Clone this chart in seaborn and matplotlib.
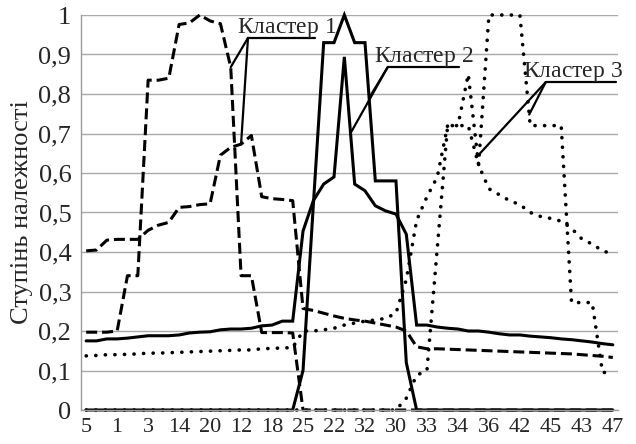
import matplotlib
matplotlib.use("Agg")
import matplotlib.pyplot as plt
import numpy as np
import seaborn as sns

# Object numbers shown under every third position on the x axis
object_labels = ["5", "1", "3", "14", "20", "12", "18", "25", "22",
                 "32", "30", "33", "34", "36", "42", "45", "43", "47"]

# Membership degrees, cluster 1 (two methods)
cl1_a = [0.197, 0.197, 0.197, 0.200, 0.340, 0.340, 0.835, 0.835, 0.840, 0.976,
         0.980, 1.000, 0.985, 0.978, 0.868, 0.340, 0.340, 0.196, 0.196, 0.196,
         0.195, 0.0, 0.0, 0.0, 0.0, 0.0, 0.0, 0.0, 0.0, 0.0,
         0.0, 0.0, 0.0, 0.0, 0.0, 0.0, 0.0, 0.0, 0.0, 0.0,
         0.0, 0.0, 0.0, 0.0, 0.0, 0.0, 0.0, 0.0, 0.0, 0.0,
         0.0, 0.0]
cl1_b = [0.403, 0.405, 0.430, 0.432, 0.432, 0.432, 0.455, 0.468, 0.475, 0.513,
         0.515, 0.520, 0.522, 0.645, 0.665, 0.673, 0.695, 0.540, 0.535, 0.533,
         0.530, 0.257, 0.252, 0.245, 0.238, 0.232, 0.228, 0.225, 0.220, 0.215,
         0.210, 0.200, 0.160, 0.155, 0.155, 0.154, 0.153, 0.152, 0.151, 0.150,
         0.149, 0.148, 0.147, 0.146, 0.145, 0.144, 0.143, 0.142, 0.140, 0.138,
         0.136, 0.133]

# Membership degrees, cluster 2
cl2_a = [0.175, 0.175, 0.180, 0.180, 0.182, 0.185, 0.188, 0.188, 0.188, 0.190,
         0.195, 0.197, 0.198, 0.203, 0.205, 0.205, 0.207, 0.213, 0.215, 0.225,
         0.225, 0.453, 0.530, 0.572, 0.590, 0.894, 0.572, 0.555, 0.517, 0.504,
         0.496, 0.445, 0.215, 0.215, 0.210, 0.207, 0.205, 0.200, 0.200, 0.197,
         0.193, 0.190, 0.190, 0.187, 0.185, 0.183, 0.180, 0.178, 0.175, 0.172,
         0.168, 0.165]
cl2_b = [0.0, 0.0, 0.0, 0.0, 0.0, 0.0, 0.0, 0.0, 0.0, 0.0,
         0.0, 0.0, 0.0, 0.0, 0.0, 0.0, 0.0, 0.0, 0.0, 0.0,
         0.0, 0.100, 0.520, 0.930, 0.930, 1.000, 0.930, 0.930, 0.580, 0.580,
         0.580, 0.120, 0.0, 0.0, 0.0, 0.0, 0.0, 0.0, 0.0, 0.0,
         0.0, 0.0, 0.0, 0.0, 0.0, 0.0, 0.0, 0.0, 0.0, 0.0,
         0.0, 0.0]

# Membership degrees, cluster 3
cl3_a = [0.137, 0.138, 0.140, 0.140, 0.141, 0.142, 0.144, 0.144, 0.145, 0.146,
         0.147, 0.148, 0.149, 0.150, 0.151, 0.152, 0.152, 0.155, 0.156, 0.157,
         0.158, 0.200, 0.200, 0.203, 0.207, 0.215, 0.220, 0.225, 0.228, 0.232,
         0.245, 0.330, 0.480, 0.540, 0.590, 0.720, 0.720, 0.850, 0.620, 0.560,
         0.545, 0.530, 0.520, 0.500, 0.490, 0.485, 0.478, 0.460, 0.433, 0.420,
         0.403, 0.395]
cl3_b = [0.0, 0.0, 0.0, 0.0, 0.0, 0.0, 0.0, 0.0, 0.0, 0.0,
         0.0, 0.0, 0.0, 0.0, 0.0, 0.0, 0.0, 0.0, 0.0, 0.0,
         0.0, 0.0, 0.0, 0.0, 0.0, 0.0, 0.0, 0.0, 0.0, 0.0,
         0.0, 0.030, 0.088, 0.100, 0.410, 0.720, 0.720, 0.720, 0.620, 1.000,
         1.000, 1.000, 1.000, 0.720, 0.720, 0.720, 0.720, 0.272, 0.272, 0.272,
         0.095, 0.095]

sns.set_theme(style="white")
plt.rcParams["font.family"] = "serif"
plt.rcParams["font.serif"] = ["Liberation Serif", "DejaVu Serif"]
plt.rcParams["mathtext.fontset"] = "custom"
plt.rcParams["mathtext.rm"] = "Liberation Serif"
plt.rcParams["mathtext.it"] = "Liberation Serif:italic"

pos = np.arange(len(cl1_a))

fig = plt.figure(figsize=(6.36, 4.44), dpi=100)
ax = fig.add_axes([81 / 636, 34 / 444, 537 / 636, 395 / 444])

dashed = (0, (3.6, 1.6))
dotted = (0, (0.05, 2.6))
styles = [
    (cl1_a, dashed, "butt", 2.2),
    (cl1_b, dashed, "butt", 2.2),
    (cl3_a, dotted, "round", 2.6),
    (cl3_b, dotted, "round", 2.6),
    (cl2_a, "-", "butt", 2.2),
    (cl2_b, "-", "butt", 2.2),
]
for vals, ls, cap, w in styles:
    sns.lineplot(x=pos, y=vals, ax=ax, color="black", lw=w,
                 linestyle=ls, dash_capstyle=cap, solid_joinstyle="miter",
                 clip_on=False)

ax.set_xlim(-0.5, len(pos) - 0.5)
ax.set_ylim(0, 1)

# y axis: decimal comma labels
yt = np.round(np.arange(0, 1.01, 0.1), 1)
ax.set_yticks(yt)
ax.set_yticklabels(["0" if v == 0 else ("1" if v == 1 else f"{v:.1f}".replace(".", ","))
                    for v in yt], fontsize=19)
ax.set_ylabel("Ступінь належності", fontsize=19, labelpad=4)

# x axis: a label every third object, ticks between all positions
ax.set_xticks(pos[::3])
ax.set_xticklabels(object_labels, fontsize=16)
ax.set_xticks(np.arange(-0.5, len(pos), 1.0), minor=True)
ax.tick_params(axis="x", which="major", length=0, pad=6)
ax.tick_params(axis="x", which="minor", length=5, width=1, color="#9a9a9a", direction="out")
ax.tick_params(axis="y", length=5, width=1, color="#9a9a9a", direction="out", pad=2)

ax.yaxis.grid(True, color="#a8a8a8", lw=1.0)
ax.xaxis.grid(False)
ax.set_axisbelow(True)
for side in ("top", "right"):
    ax.spines[side].set_visible(False)
for side in ("left", "bottom"):
    ax.spines[side].set_color("#9a9a9a")
    ax.spines[side].set_linewidth(1.0)

# Callouts: text, a horizontal rule and two leaders to the series of each cluster
callouts = [
    ("Кластер $\\mathit{1}$", 14.6, 15.67, 22.15, 0.942,
     [(14.0, cl1_a), (15.0, cl1_b)]),
    ("Кластер $\\mathit{2}$", 27.9, 29.2, 36.1, 0.868,
     [(27.4, cl2_b), (25.6, cl2_a)]),
    ("Кластер $\\mathit{3}$", 42.3, 44.5, 51.3, 0.830,
     [(42.9, cl3_b), (37.9, cl3_a)]),
]
for text, tx, x0, x1, y, leaders in callouts:
    ax.plot([x0, x1], [y, y], color="black", lw=1.6, clip_on=False)
    for lx, series in leaders:
        ly = np.interp(lx, pos, series)
        ax.plot([x0, lx], [y, ly], color="black", lw=1.6, clip_on=False)
    ax.annotate(text, xy=(tx, y), xytext=(0, 5), textcoords="offset pixels",
                ha="left", va="baseline", fontsize=17, annotation_clip=False)

fig.savefig("out.png", dpi=100, facecolor="white")
